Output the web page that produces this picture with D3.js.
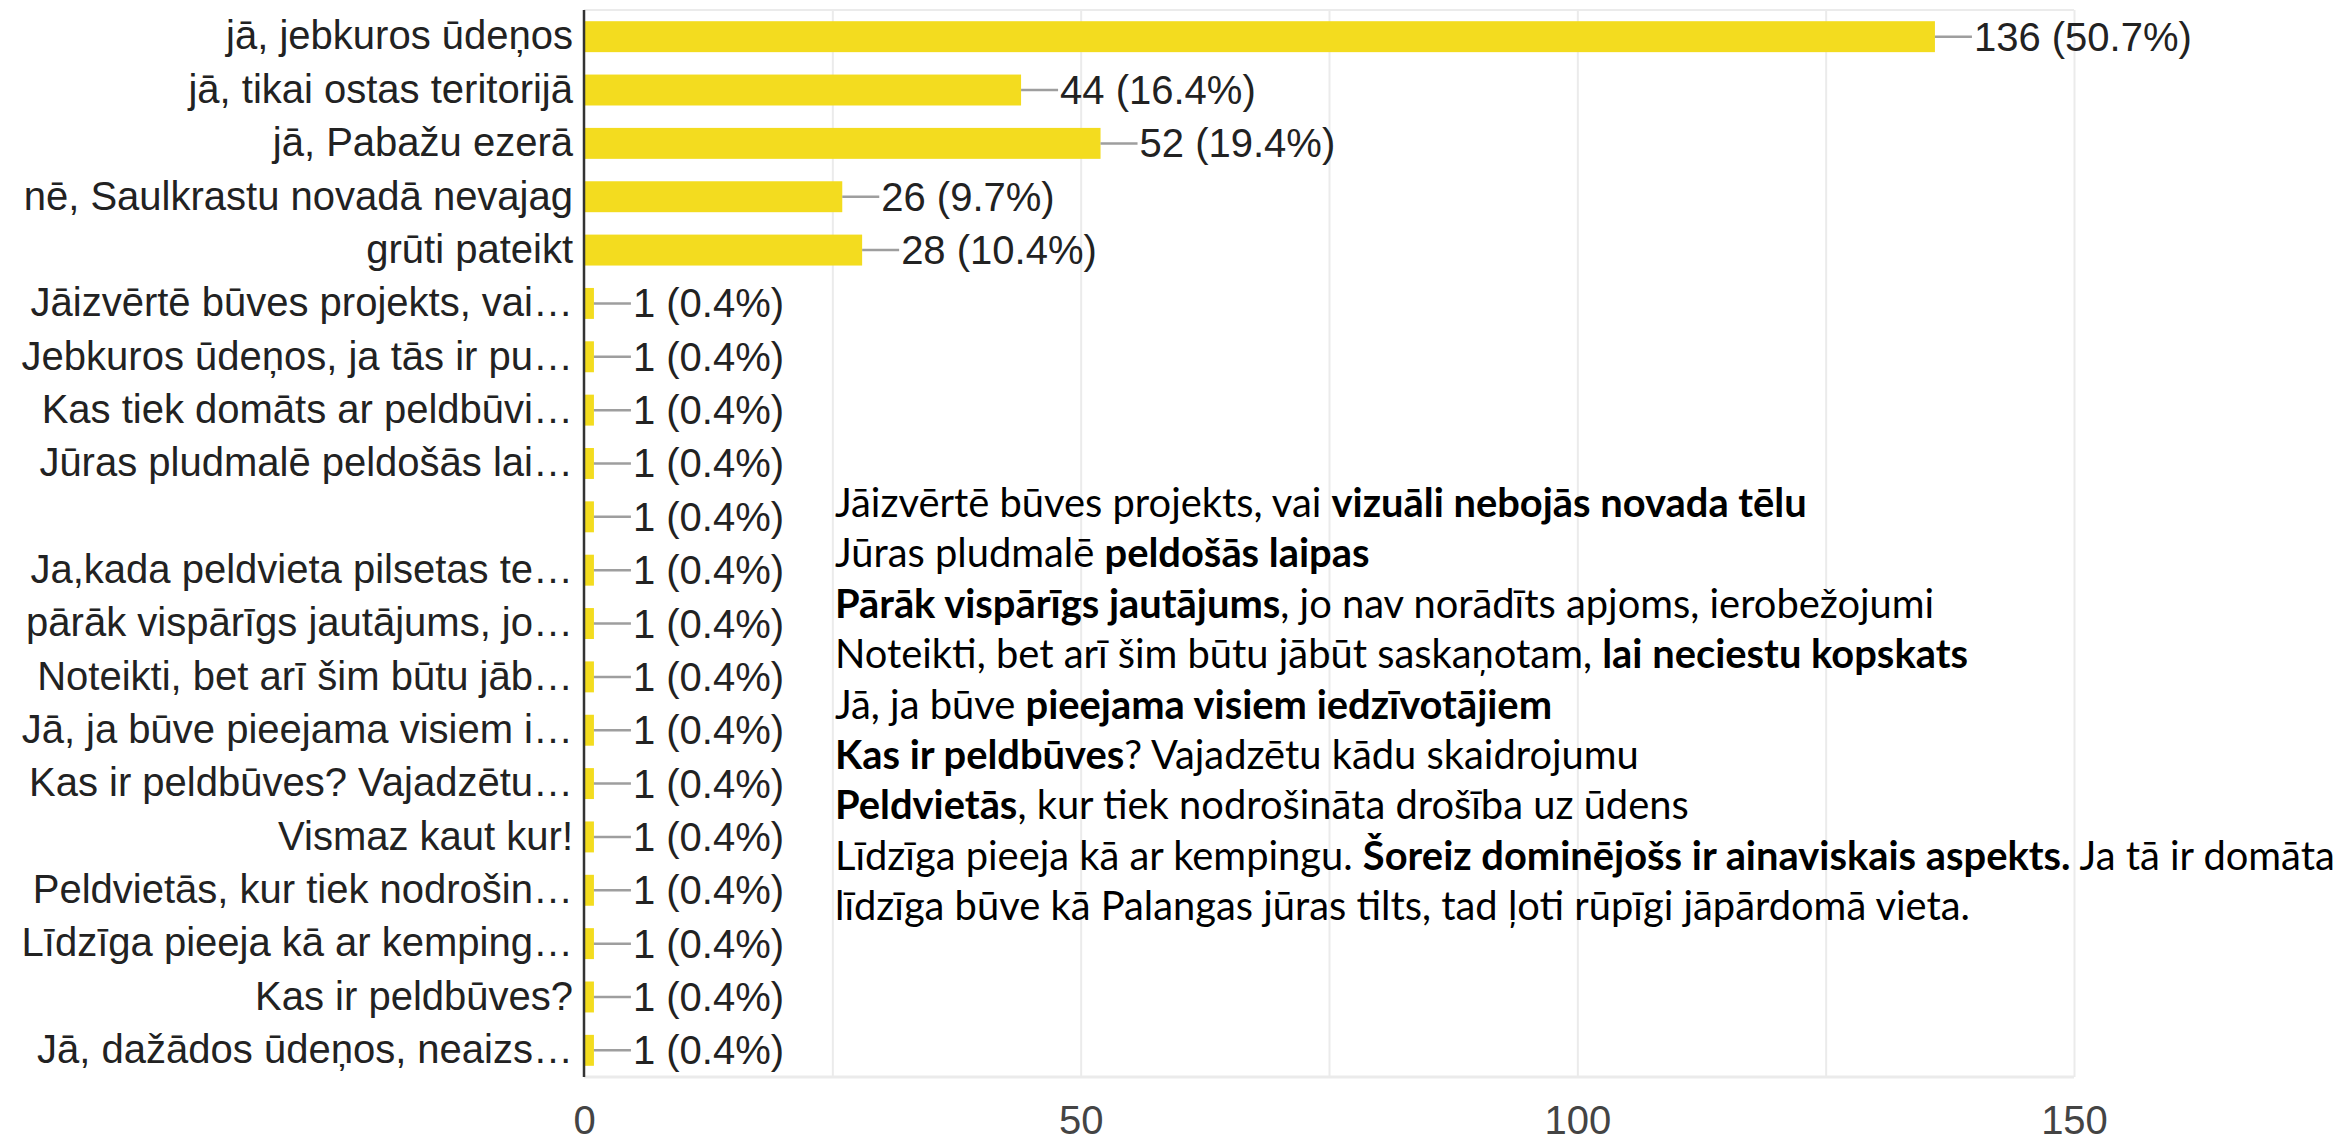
<!DOCTYPE html>
<html>
<head>
<meta charset="utf-8">
<script src="https://cdn.jsdelivr.net/npm/d3@7"></script>
<style>
  html, body { margin: 0; padding: 0; background: #fff; }
  svg { display: block; }
</style>
</head>
<body>
<div class="chart"></div>
<script>
// answers (y axis), counts and the percent shown next to each bar
const categories = [
    "jā, jebkuros ūdeņos",
    "jā, tikai ostas teritorijā",
    "jā, Pabažu ezerā",
    "nē, Saulkrastu novadā nevajag",
    "grūti pateikt",
    "Jāizvērtē būves projekts, vai…",
    "Jebkuros ūdeņos, ja tās ir pu…",
    "Kas tiek domāts ar peldbūvi…",
    "Jūras pludmalē peldošās lai…",
    "",
    "Ja,kada peldvieta pilsetas te…",
    "pārāk vispārīgs jautājums, jo…",
    "Noteikti, bet arī šim būtu jāb…",
    "Jā, ja būve pieejama visiem i…",
    "Kas ir peldbūves? Vajadzētu…",
    "Vismaz kaut kur!",
    "Peldvietās, kur tiek nodrošin…",
    "Līdzīga pieeja kā ar kemping…",
    "Kas ir peldbūves?",
    "Jā, dažādos ūdeņos, neaizs…"
];
const counts = [136, 44, 52, 26, 28, 1, 1, 1, 1, 1, 1, 1, 1, 1, 1, 1, 1, 1, 1, 1];
const percents = ["50.7%", "16.4%", "19.4%", "9.7%", "10.4%",
    "0.4%", "0.4%", "0.4%", "0.4%", "0.4%", "0.4%", "0.4%", "0.4%",
    "0.4%", "0.4%", "0.4%", "0.4%", "0.4%", "0.4%", "0.4%"];

const xTicks = [0, 50, 100, 150];
const gridTicks = [25, 50, 75, 100, 125, 150];

// pasted note with the free-text answers, [text, bold] pieces per line
const noteLines = [
    [["Jāizvērtē būves projekts, vai ", false], ["vizuāli nebojās novada tēlu", true]],
    [["Jūras pludmalē ", false], ["peldošās laipas", true]],
    [["Pārāk vispārīgs jautājums", true], [", jo nav norādīts apjoms, ierobežojumi", false]],
    [["Noteikti, bet arī šim būtu jābūt saskaņotam, ", false], ["lai neciestu kopskats", true]],
    [["Jā, ja būve ", false], ["pieejama visiem iedzīvotājiem", true]],
    [["Kas ir peldbūves", true], ["? Vajadzētu kādu skaidrojumu", false]],
    [["Peldvietās", true], [", kur tiek nodrošināta drošība uz ūdens", false]],
    [["Līdzīga pieeja kā ar kempingu. ", false], ["Šoreiz dominējošs ir ainaviskais aspekts.", true], [" Ja tā ir domāta", false]],
    [["līdzīga būve kā Palangas jūras tilts, tad ļoti rūpīgi jāpārdomā vieta.", false]]
];

const W = 2341, H = 1139;
const plot = { left: 584, right: 2074, top: 10, bottom: 1077 };
const font = "'Liberation Sans', Arial, sans-serif";

const svg = d3.select(".chart")
    .append("svg")
    .attr("width", W)
    .attr("height", H);

const x = d3.scaleLinear()
    .domain([0, 150])
    .range([plot.left, plot.right]);

const y = d3.scaleBand()
    .domain(d3.range(categories.length))
    .range([plot.top, plot.bottom])
    .paddingInner(0.42)
    .paddingOuter(0.21);

// grid lines + frame
const grid = svg.append("g")
    .attr("transform", `translate(0,${plot.bottom})`)
    .call(d3.axisBottom(x).tickValues(gridTicks).tickSize(-(plot.bottom - plot.top)).tickFormat(""));
grid.select(".domain").remove();
grid.selectAll(".tick line").attr("stroke", "#ebebeb").attr("stroke-width", 2);

svg.append("line")
    .attr("x1", plot.left).attr("x2", plot.right)
    .attr("y1", plot.top).attr("y2", plot.top)
    .attr("stroke", "#ebebeb").attr("stroke-width", 2);
svg.append("line")
    .attr("x1", plot.left).attr("x2", plot.right)
    .attr("y1", plot.bottom).attr("y2", plot.bottom)
    .attr("stroke", "#ebebeb").attr("stroke-width", 3);

// x tick labels
const xAxis = svg.append("g")
    .attr("transform", `translate(0,${plot.bottom})`)
    .call(d3.axisBottom(x).tickValues(xTicks).tickSize(0).tickPadding(29));
xAxis.select(".domain").remove();
xAxis.selectAll("text")
    .attr("font-family", font)
    .attr("font-size", 40)
    .attr("fill", "#444");

// bars
svg.selectAll(".bar")
    .data(counts)
    .enter()
    .append("rect")
    .attr("class", "bar")
    .attr("x", x(0))
    .attr("y", (d, i) => y(i))
    .attr("width", d => x(d) - x(0))
    .attr("height", y.bandwidth())
    .attr("fill", "#f3dc1f");

// leader lines and value labels
svg.selectAll(".leader")
    .data(counts)
    .enter()
    .append("line")
    .attr("class", "leader")
    .attr("x1", d => x(d))
    .attr("x2", d => x(d) + 37)
    .attr("y1", (d, i) => y(i) + y.bandwidth() / 2)
    .attr("y2", (d, i) => y(i) + y.bandwidth() / 2)
    .attr("stroke", "#9e9e9e")
    .attr("stroke-width", 2.5);

svg.selectAll(".value")
    .data(counts)
    .enter()
    .append("text")
    .attr("class", "value")
    .attr("x", d => x(d) + 39)
    .attr("y", (d, i) => y(i) + y.bandwidth() / 2)
    .attr("dy", "0.35em")
    .attr("font-family", font)
    .attr("font-size", 40)
    .attr("fill", "#222")
    .text((d, i) => `${d} (${percents[i]})`);

// category axis
const yAxis = svg.append("g")
    .attr("transform", `translate(${plot.left},0)`)
    .call(d3.axisLeft(y).tickSize(0).tickPadding(11).tickFormat(i => categories[i]));
yAxis.select(".domain").remove();
yAxis.selectAll("text")
    .attr("font-family", font)
    .attr("font-size", 40)
    .attr("fill", "#222");

svg.append("line")
    .attr("x1", plot.left).attr("x2", plot.left)
    .attr("y1", plot.top).attr("y2", plot.bottom)
    .attr("stroke", "#333")
    .attr("stroke-width", 2.5);

// note block
const note = svg.append("g")
    .attr("font-family", "Lato, 'Open Sans', sans-serif")
    .attr("fill", "#000");

const noteText = note.selectAll("text")
    .data(noteLines)
    .enter()
    .append("text")
    .attr("x", 835)
    .attr("y", (d, i) => 517 + i * 50.4)
    .attr("font-size", 36);

noteText.selectAll("tspan")
    .data(d => d)
    .enter()
    .append("tspan")
    .attr("font-weight", d => d[1] ? 700 : 400)
    .text(d => d[0]);

// fit the substitute font so the first line has the width it has in the picture
const firstWidth = noteText.node().getComputedTextLength();
const size = 36 * 972 / firstWidth;
noteText.attr("font-size", size);
</script>
</body>
</html>
